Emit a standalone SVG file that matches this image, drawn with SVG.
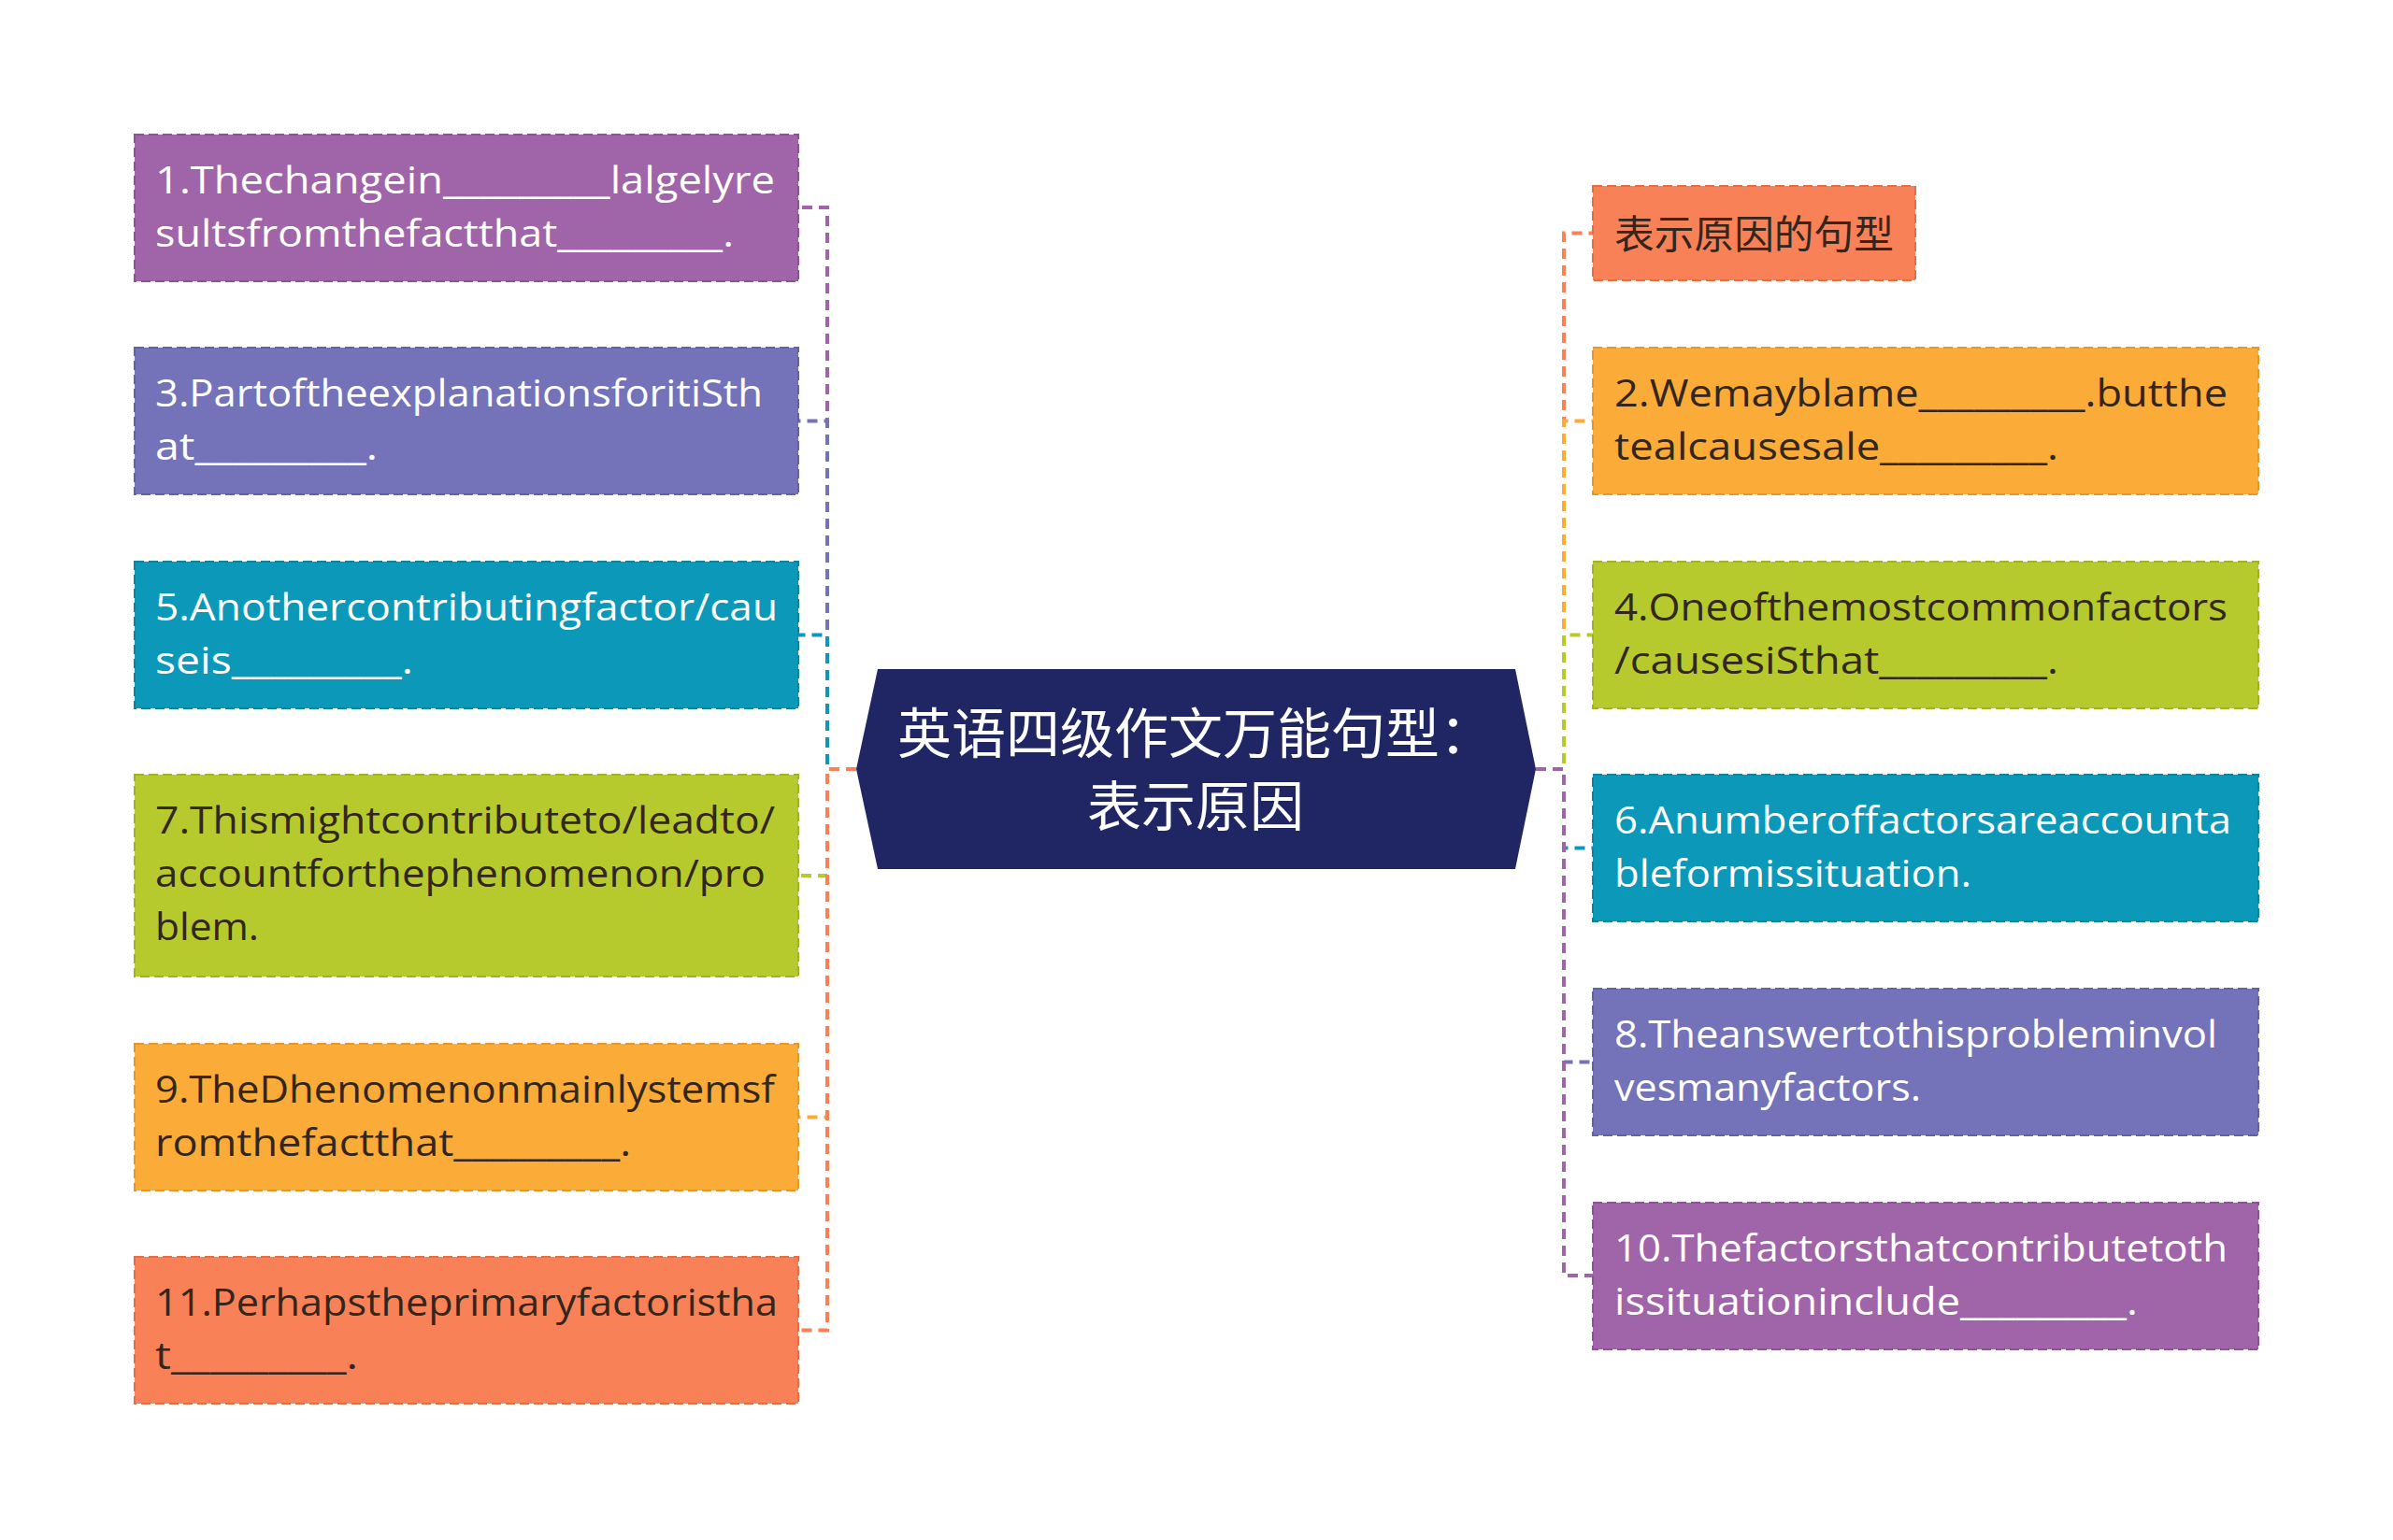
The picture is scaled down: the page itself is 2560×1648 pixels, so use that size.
<svg xmlns="http://www.w3.org/2000/svg" width="2560" height="1648" viewBox="0 0 2560 1648">
<style>
.box{stroke-width:2;stroke-dasharray:10 5}
.purple{fill:#A064A8;stroke:#8C5295}
.violet{fill:#7472B9;stroke:#6361A6}
.teal{fill:#0C98B8;stroke:#0A84A0}
.lime{fill:#B6CA2E;stroke:#A0B324}
.amber{fill:#FBAB37;stroke:#E8962A}
.coral{fill:#F98157;stroke:#E46D45}
.t{font-family:"Open Sans","Noto Sans CJK SC",sans-serif;font-size:40px}
.w{fill:#FFFFFF}
.d{fill:#33261C}
.cjk{font-family:"Noto Sans CJK SC","Noto Sans",sans-serif}
.c{fill:none;stroke-width:4;stroke-dasharray:11 7}
</style>
<rect width="2560" height="1648" fill="#FFFFFF"/>
<g id="connectors">
<path class="c" stroke="#A064A8" d="M916,823 H885 V222 H854"/>
<path class="c" stroke="#7472B9" d="M916,823 H885 V450.5 H854"/>
<path class="c" stroke="#0C98B8" d="M916,823 H885 V679.5 H854"/>
<path class="c" stroke="#B6CA2E" d="M916,823 H885 V937 H854"/>
<path class="c" stroke="#FBAB37" d="M916,823 H885 V1195.5 H854"/>
<path class="c" stroke="#F98157" d="M916,823 H885 V1423.5 H854"/>
<path class="c" stroke="#F98157" d="M1643,823 H1673 V249.5 H1704"/>
<path class="c" stroke="#FBAB37" d="M1643,823 H1673 V450.5 H1704"/>
<path class="c" stroke="#B6CA2E" d="M1643,823 H1673 V679.5 H1704"/>
<path class="c" stroke="#0C98B8" d="M1643,823 H1673 V907.5 H1704"/>
<path class="c" stroke="#7472B9" d="M1643,823 H1673 V1136.5 H1704"/>
<path class="c" stroke="#A064A8" d="M1643,823 H1673 V1365 H1704"/>
</g>
<g id="center">
<polygon points="939,716 1621,716 1643,823 1621,930 939,930 916,823" fill="#1F2663"/>
<text class="cjk" x="1279" y="806" font-size="58" fill="#FFFFFF" text-anchor="middle">英语四级作文万能句型：</text>
<text class="cjk" x="1279" y="884" font-size="58" fill="#FFFFFF" text-anchor="middle">表示原因</text>
</g>
<g id="node1">
<rect class="box purple" x="144" y="144" width="710" height="157"/>
<text class="t w" x="166" y="207" textLength="663" lengthAdjust="spacingAndGlyphs">1.Thechangein_________lalgelyre</text>
<text class="t w" x="166" y="264" textLength="619" lengthAdjust="spacingAndGlyphs">sultsfromthefactthat_________.</text>
</g>
<g id="node3">
<rect class="box violet" x="144" y="372" width="710" height="157"/>
<text class="t w" x="166" y="435" textLength="650" lengthAdjust="spacingAndGlyphs">3.PartoftheexplanationsforitiSth</text>
<text class="t w" x="166" y="492" textLength="238" lengthAdjust="spacingAndGlyphs">at_________.</text>
</g>
<g id="node5">
<rect class="box teal" x="144" y="601" width="710" height="157"/>
<text class="t w" x="166" y="664" textLength="666" lengthAdjust="spacingAndGlyphs">5.Anothercontributingfactor/cau</text>
<text class="t w" x="166" y="721" textLength="276" lengthAdjust="spacingAndGlyphs">seis_________.</text>
</g>
<g id="node7">
<rect class="box lime" x="144" y="829" width="710" height="216"/>
<text class="t d" x="166" y="892" textLength="663" lengthAdjust="spacingAndGlyphs">7.Thismightcontributeto/leadto/</text>
<text class="t d" x="166" y="949" textLength="653" lengthAdjust="spacingAndGlyphs">accountforthephenomenon/pro</text>
<text class="t d" x="166" y="1006" textLength="111" lengthAdjust="spacingAndGlyphs">blem.</text>
</g>
<g id="node9">
<rect class="box amber" x="144" y="1117" width="710" height="157"/>
<text class="t d" x="166" y="1180" textLength="663" lengthAdjust="spacingAndGlyphs">9.TheDhenomenonmainlystemsf</text>
<text class="t d" x="166" y="1237" textLength="509" lengthAdjust="spacingAndGlyphs">romthefactthat_________.</text>
</g>
<g id="node11">
<rect class="box coral" x="144" y="1345" width="710" height="157"/>
<text class="t d" x="166" y="1408" textLength="666" lengthAdjust="spacingAndGlyphs">11.Perhapstheprimaryfactoristha</text>
<text class="t d" x="166" y="1465" textLength="217" lengthAdjust="spacingAndGlyphs">t_________.</text>
</g>
<g id="title">
<rect class="box coral" x="1704" y="199" width="345" height="101"/>
<text class="cjk d" x="1727" y="266" font-size="42" textLength="299" lengthAdjust="spacingAndGlyphs">表示原因的句型</text>
</g>
<g id="node2">
<rect class="box amber" x="1704" y="372" width="712" height="157"/>
<text class="t d" x="1727" y="435" textLength="656" lengthAdjust="spacingAndGlyphs">2.Wemayblame_________.butthe</text>
<text class="t d" x="1727" y="492" textLength="475" lengthAdjust="spacingAndGlyphs">tealcausesale_________.</text>
</g>
<g id="node4">
<rect class="box lime" x="1704" y="601" width="712" height="157"/>
<text class="t d" x="1727" y="664" textLength="656" lengthAdjust="spacingAndGlyphs">4.Oneofthemostcommonfactors</text>
<text class="t d" x="1727" y="721" textLength="475" lengthAdjust="spacingAndGlyphs">/causesiSthat_________.</text>
</g>
<g id="node6">
<rect class="box teal" x="1704" y="829" width="712" height="157"/>
<text class="t w" x="1727" y="892" textLength="660" lengthAdjust="spacingAndGlyphs">6.Anumberoffactorsareaccounta</text>
<text class="t w" x="1727" y="949" textLength="382" lengthAdjust="spacingAndGlyphs">bleformissituation.</text>
</g>
<g id="node8">
<rect class="box violet" x="1704" y="1058" width="712" height="157"/>
<text class="t w" x="1727" y="1121" textLength="645" lengthAdjust="spacingAndGlyphs">8.Theanswertothisprobleminvol</text>
<text class="t w" x="1727" y="1178" textLength="328" lengthAdjust="spacingAndGlyphs">vesmanyfactors.</text>
</g>
<g id="node10">
<rect class="box purple" x="1704" y="1287" width="712" height="157"/>
<text class="t w" x="1727" y="1350" textLength="656" lengthAdjust="spacingAndGlyphs">10.Thefactorsthatcontributetoth</text>
<text class="t w" x="1727" y="1407" textLength="560" lengthAdjust="spacingAndGlyphs">issituationinclude_________.</text>
</g>
</svg>
